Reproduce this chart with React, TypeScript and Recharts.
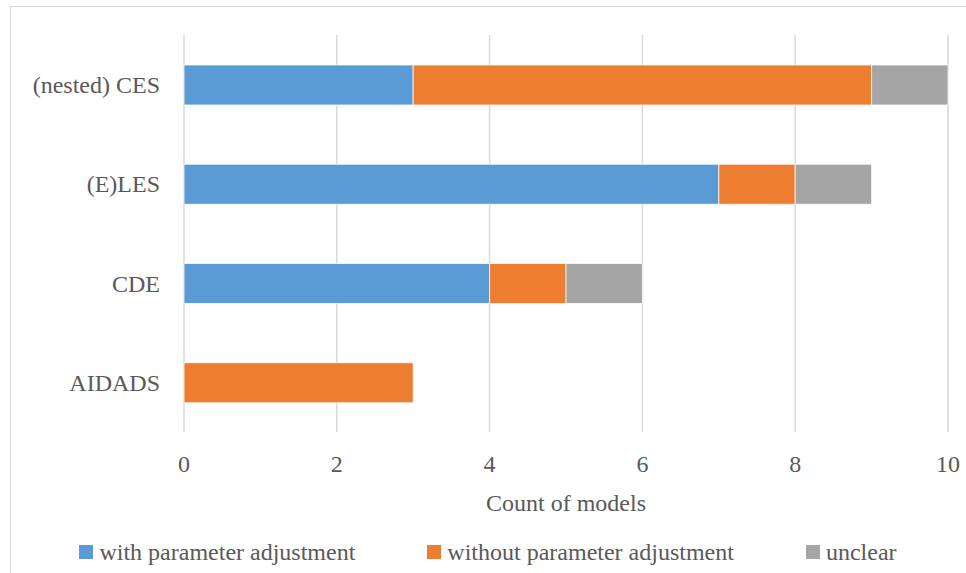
import React from "react";
import {
  BarChart,
  Bar,
  XAxis,
  YAxis,
  CartesianGrid,
  Legend,
} from "recharts";

// values
const categories = ["(nested) CES", "(E)LES", "CDE", "AIDADS"];
const withAdjustment = [3, 7, 4, 0];
const withoutAdjustment = [6, 1, 1, 3];
const unclear = [1, 1, 1, 0];
const xTicks = [0, 2, 4, 6, 8, 10];

const SERIES = [
  { key: "with", name: "with parameter adjustment", color: "#5b9bd5" },
  { key: "without", name: "without parameter adjustment", color: "#ed7d31" },
  { key: "unclear", name: "unclear", color: "#a5a5a5" },
];

const data = categories.map((name, i) => ({
  name,
  with: withAdjustment[i],
  without: withoutAdjustment[i],
  unclear: unclear[i],
}));

const FONT = "'Liberation Serif', 'DejaVu Serif', serif";
const TEXT = "#595959";
const GRID = "#d9d9d9";

function LegendRow() {
  return (
    <div
      style={{
        display: "flex",
        justifyContent: "center",
        alignItems: "center",
        gap: 72,
        fontFamily: FONT,
        fontSize: 24,
        color: TEXT,
        lineHeight: "26px",
      }}
    >
      {SERIES.map((s) => (
        <div key={s.key} style={{ display: "flex", alignItems: "center", fontFamily: FONT }}>
          <span
            style={{
              display: "inline-block",
              width: 14,
              height: 14,
              background: s.color,
              marginRight: 6,
            }}
          />
          <span style={{ fontFamily: FONT }}>{s.name}</span>
        </div>
      ))}
    </div>
  );
}

export default function App() {
  return (
    <div
      style={{
        position: "absolute",
        left: 0,
        top: 0,
        width: 966,
        height: 573,
        background: "#fff",
        fontFamily: FONT,
        overflow: "hidden",
      }}
    >
      <div
        style={{
          position: "absolute",
          left: 10,
          top: 6,
          width: 980,
          height: 600,
          borderTop: `1.5px solid ${GRID}`,
          borderLeft: `1.5px solid ${GRID}`,
        }}
      />
      <div style={{ position: "absolute", left: 0, top: 0 }}>
        <BarChart
          width={966}
          height={573}
          data={data}
          layout="vertical"
          margin={{ top: 35, right: 18, bottom: 0, left: 0 }}
        >
          <CartesianGrid horizontal={false} stroke={GRID} strokeWidth={1.5} />
          <XAxis
            type="number"
            domain={[0, 10]}
            ticks={xTicks}
            height={141}
            axisLine={false}
            tickLine={false}
            tickSize={0}
            tickMargin={23}
            tick={{ fontSize: 24, fill: TEXT, fontFamily: FONT }}
            label={{
              value: "Count of models",
              position: "insideBottom",
              offset: 62,
              fontSize: 24,
              fill: TEXT,
              fontFamily: FONT,
            }}
          />
          <YAxis
            type="category"
            dataKey="name"
            width={184}
            axisLine={false}
            tickLine={false}
            tickSize={0}
            tickMargin={24}
            tick={{ fontSize: 24, fill: TEXT, fontFamily: FONT }}
          />
          <Legend
            layout="horizontal"
            verticalAlign="middle"
            align="center"
            content={() => <LegendRow />}
            wrapperStyle={{ top: 539, left: 10, width: 956, height: 28 }}
          />
          {SERIES.map((s) => (
            <Bar
              key={s.key}
              dataKey={s.key}
              name={s.name}
              stackId="a"
              fill={s.color}
              stroke="#ffffff"
              strokeWidth={0.75}
              barSize={40}
              isAnimationActive={false}
            />
          ))}
        </BarChart>
      </div>
    </div>
  );
}
